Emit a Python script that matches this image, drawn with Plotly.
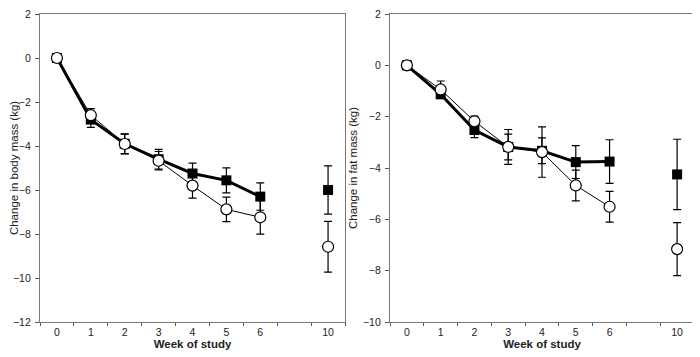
import plotly.graph_objects as go

# Data
week_labels = ["0", "1", "2", "3", "4", "5", "6", "10"]
week_pos = [0, 1, 2, 3, 4, 5, 6, 8]  # slot index on the axis (slot 7 is empty)

body_sq = [0, -2.8, -3.9, -4.6, -5.25, -5.56, -6.3, -6.0]
body_sq_err = [0, 0.35, 0.45, 0.45, 0.47, 0.57, 0.62, 1.1]
body_ci = [0, -2.6, -3.91, -4.67, -5.8, -6.88, -7.24, -8.58]
body_ci_err = [0, 0.3, 0.45, 0.42, 0.57, 0.56, 0.77, 1.15]

fat_sq = [0, -1.13, -2.52, -3.18, -3.33, -3.77, -3.75, -4.25]
fat_sq_err = [0, 0.16, 0.3, 0.68, 0.5, 0.64, 0.85, 1.37]
fat_ci = [0, -0.94, -2.18, -3.18, -3.38, -4.68, -5.51, -7.16]
fat_ci_err = [0, 0.33, 0.2, 0.5, 0.98, 0.6, 0.6, 1.03]

fig = go.Figure()

def add_series(xa, ya, sq, sqe, ci, cie):
    # connected weeks 0-6 and the separate week-10 point
    for sl in (slice(0, 7), slice(7, 8)):
        fig.add_trace(go.Scatter(
            x=week_pos[sl], y=sq[sl], xaxis=xa, yaxis=ya,
            mode="lines+markers",
            line=dict(color="black", width=3),
            marker=dict(symbol="square", size=10, color="black"),
            error_y=dict(type="data", array=sqe[sl], visible=True,
                         color="black", thickness=1.2, width=4),
            showlegend=False, cliponaxis=False))
    for sl in (slice(0, 7), slice(7, 8)):
        fig.add_trace(go.Scatter(
            x=week_pos[sl], y=ci[sl], xaxis=xa, yaxis=ya,
            mode="lines+markers",
            line=dict(color="black", width=1),
            marker=dict(symbol="circle", size=11, color="white",
                        line=dict(color="black", width=1.2)),
            error_y=dict(type="data", array=cie[sl], visible=True,
                         color="black", thickness=1.2, width=4),
            showlegend=False, cliponaxis=False))

add_series("x", "y", body_sq, body_sq_err, body_ci, body_ci_err)
add_series("x2", "y2", fat_sq, fat_sq_err, fat_ci, fat_ci_err)

FAM = "Liberation Sans, Arial, sans-serif"
font = dict(family=FAM, size=10.5, color="#222")

xcommon = dict(
    range=[-0.5, 8.5], tickmode="array", tickvals=week_pos, ticktext=week_labels,
    ticks="", showgrid=False, zeroline=False, ticklabelstandoff=0, automargin=False,
    ticklabeloverflow="allow",
    showline=True, linecolor="#777", linewidth=1.2, mirror=True,
    minor=dict(tickmode="linear", tick0=-0.5, dtick=1, ticks="outside",
               ticklen=3, tickcolor="#555", tickwidth=1),
    tickfont=dict(family=FAM, size=10.5, color="#222"),
    title=dict(text="<b>Week of study</b>", standoff=0,
               font=dict(family=FAM, size=11.5, color="#222")),
)
ycommon = dict(
    ticks="outside", ticklen=4, tickcolor="#555", tickwidth=1,
    showgrid=False, zeroline=False, ticklabelstandoff=2, automargin=False,
    ticklabeloverflow="allow",
    showline=True, linecolor="#777", linewidth=1.2, mirror=True,
    tickfont=dict(family=FAM, size=10.5, color="#222"),
)

# the page adds an 8px body margin; domains are offset to compensate
W, H, OFF = 700, 357, 8
ydom = [(H - (322 - OFF)) / H, (H - (14 - OFF)) / H]

fig.update_layout(
    width=W, height=H, margin=dict(l=0, r=0, t=0, b=0),
    plot_bgcolor="white", paper_bgcolor="white", font=font,
    xaxis=dict(domain=[(40 - OFF) / W, (345 - OFF) / W], anchor="y", **xcommon),
    yaxis=dict(domain=ydom, anchor="x", range=[-12, 2], dtick=2,
               title=dict(text="Change in body mass (kg)", standoff=1,
                          font=dict(family=FAM, size=11.5, color="#222")),
               **ycommon),
    xaxis2=dict(domain=[(390 - OFF) / W, (694 - OFF) / W], anchor="y2", **xcommon),
    yaxis2=dict(domain=ydom, anchor="x2", range=[-10, 2], dtick=2,
                title=dict(text="Change in fat mass (kg)", standoff=2,
                           font=dict(family=FAM, size=11.5, color="#222")),
                **ycommon),
)

fig.write_html("out.html")
